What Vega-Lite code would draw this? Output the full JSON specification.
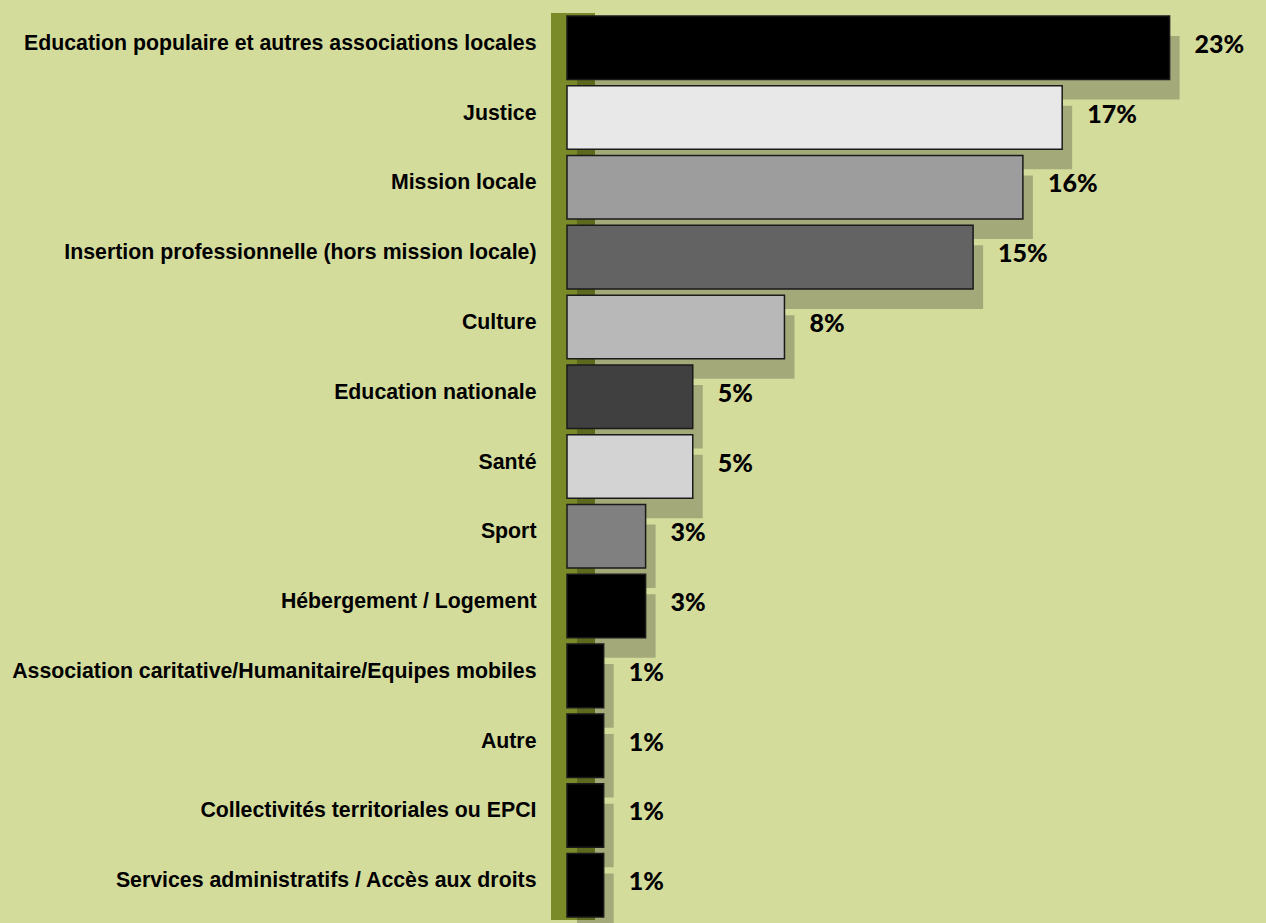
{
  "$schema": "https://vega.github.io/schema/vega-lite/v6.json",
  "autosize": {"type": "none"},
  "width": 655,
  "height": 907,
  "padding": {"left": 567, "top": 13, "right": 44, "bottom": 3},
  "background": "#d4dc9c",
  "config": {"view": {"stroke": null}},
  "data": {
    "values": [
      {"category": "Education populaire et autres associations locales", "value": 23.0, "label": "23%"},
      {"category": "Justice", "value": 18.9, "label": "17%"},
      {"category": "Mission locale", "value": 17.4, "label": "16%"},
      {"category": "Insertion professionnelle (hors mission locale)", "value": 15.5, "label": "15%"},
      {"category": "Culture", "value": 8.3, "label": "8%"},
      {"category": "Education nationale", "value": 4.8, "label": "5%"},
      {"category": "Santé", "value": 4.8, "label": "5%"},
      {"category": "Sport", "value": 3.0, "label": "3%"},
      {"category": "Hébergement / Logement", "value": 3.0, "label": "3%"},
      {"category": "Association caritative/Humanitaire/Equipes mobiles", "value": 1.4, "label": "1%"},
      {"category": "Autre", "value": 1.4, "label": "1%"},
      {"category": "Collectivités territoriales ou EPCI", "value": 1.4, "label": "1%"},
      {"category": "Services administratifs / Accès aux droits", "value": 1.4, "label": "1%"}
    ]
  },
  "encoding": {
    "y": {
      "field": "category",
      "type": "nominal",
      "sort": null,
      "scale": {"paddingInner": 0.09, "paddingOuter": 0.043},
      "axis": {
        "title": null,
        "domain": false,
        "ticks": false,
        "labelPadding": 31,
        "labelOffset": -4,
        "labelFont": "Liberation Sans",
        "labelFontWeight": "bold",
        "labelFontSize": 21.3,
        "labelColor": "#000000",
        "labelLimit": 600
      }
    }
  },
  "layer": [
    {
      "mark": {"type": "rule", "color": "#7a8a28", "strokeWidth": 44, "xOffset": 6, "y2Offset": 4},
      "encoding": {"x": {"datum": 0, "type": "quantitative", "scale": {"domain": [0, 25]}, "axis": null}, "y": null}
    },
    {
      "mark": {"type": "bar", "color": "#000000", "opacity": 0.23, "xOffset": 10, "x2Offset": 10, "yOffset": 20, "y2Offset": 20},
      "encoding": {
        "x": {"field": "value", "type": "quantitative", "scale": {"domain": [0, 25]}, "axis": null}
      }
    },
    {
      "mark": {"type": "bar", "stroke": "#1a1a1a", "strokeWidth": 1.5},
      "encoding": {
        "x": {"field": "value", "type": "quantitative", "scale": {"domain": [0, 25]}, "axis": null},
        "color": {
          "field": "category",
          "type": "nominal",
          "legend": null,
          "scale": {
            "domain": [
              "Education populaire et autres associations locales",
              "Justice",
              "Mission locale",
              "Insertion professionnelle (hors mission locale)",
              "Culture",
              "Education nationale",
              "Santé",
              "Sport",
              "Hébergement / Logement",
              "Association caritative/Humanitaire/Equipes mobiles",
              "Autre",
              "Collectivités territoriales ou EPCI",
              "Services administratifs / Accès aux droits"
            ],
            "range": ["#000000", "#e8e8e8", "#9d9d9d", "#636363", "#b8b8b8", "#404040", "#d3d3d3", "#808080", "#000000", "#000000", "#000000", "#000000", "#000000"]
          }
        }
      }
    },
    {
      "mark": {"type": "text", "align": "left", "baseline": "middle", "dx": 25, "dy": -3, "font": "Lato", "fontWeight": 900, "fontSize": 25, "color": "#000000"},
      "encoding": {
        "x": {"field": "value", "type": "quantitative", "scale": {"domain": [0, 25]}, "axis": null},
        "text": {"field": "label"}
      }
    }
  ]
}
